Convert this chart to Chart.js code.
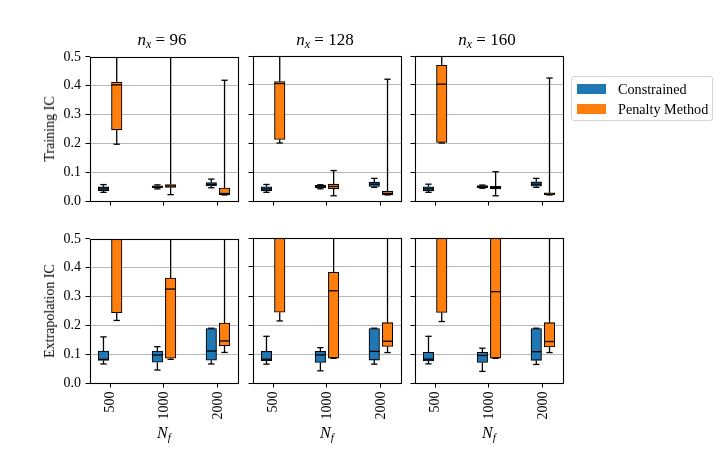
<!DOCTYPE html>
<html>
<head>
<meta charset="utf-8">
<script src="https://cdn.jsdelivr.net/npm/chart.js@4.4.1/dist/chart.umd.min.js"></script>
<style>
  html, body { margin: 0; padding: 0; background: #fff; }
  body { width: 723px; height: 465px; position: relative; overflow: hidden; font-family: "Liberation Serif", "DejaVu Serif", serif; color: #000; }
  canvas { position: absolute; }
  .title { position: absolute; width: 148px; text-align: center; font-size: 17px; line-height: 20px; white-space: nowrap; }
  .sub { font-size: 70%; position: relative; top: 0.28em; }
  .ylab { position: absolute; font-size: 14px; line-height: 16px; white-space: nowrap; transform: translate(-50%, -50%) rotate(-90deg); }
  .xlab { position: absolute; width: 148px; text-align: center; font-size: 16px; line-height: 18px; }
  .legend { position: absolute; left: 571px; top: 76px; width: 142px; height: 45px; box-sizing: border-box; border: 1px solid #d5d5d5; border-radius: 3px; background: rgba(255,255,255,0.8); }
  .item { position: absolute; left: 5px; height: 14px; display: flex; align-items: center; font-size: 14.2px; white-space: nowrap; }
  .patch { width: 29px; height: 10.5px; margin-right: 12px; }
</style>
</head>
<body>
<script>
// ---- data ----
const categories = ['500', '1000', '2000'];
const nxValues = [96, 128, 160];
const yTicks = [0, 0.1, 0.2, 0.3, 0.4, 0.5];
const rowLabels = ['Training IC', 'Extrapolation IC'];
const seriesNames = ['Constrained', 'Penalty Method'];
// each entry: [whisker low, Q1, median, Q3, whisker high]
const trainConstrained96  = [[0.030, 0.036, 0.042, 0.049, 0.057], [0.042, 0.046, 0.049, 0.053, 0.056], [0.046, 0.052, 0.058, 0.064, 0.076]];
const trainPenalty96      = [[0.197, 0.247, 0.403, 0.412, 0.95],  [0.022, 0.047, 0.052, 0.057, 0.95],  [0.021, 0.022, 0.026, 0.045, 0.419]];
const trainConstrained128 = [[0.030, 0.036, 0.042, 0.049, 0.057], [0.042, 0.045, 0.049, 0.054, 0.056], [0.047, 0.050, 0.058, 0.065, 0.078]];
const trainPenalty128     = [[0.200, 0.212, 0.405, 0.412, 0.95],  [0.018, 0.042, 0.050, 0.058, 0.105], [0.021, 0.022, 0.026, 0.034, 0.420]];
const trainConstrained160 = [[0.030, 0.035, 0.042, 0.049, 0.058], [0.044, 0.046, 0.049, 0.053, 0.055], [0.047, 0.051, 0.058, 0.066, 0.078]];
const trainPenalty160     = [[0.200, 0.202, 0.403, 0.468, 0.95],  [0.018, 0.042, 0.046, 0.051, 0.101], [0.021, 0.022, 0.024, 0.028, 0.424]];
const extrapConstrained96  = [[0.066, 0.078, 0.082, 0.111, 0.160], [0.045, 0.072, 0.097, 0.111, 0.126], [0.066, 0.079, 0.111, 0.189, 0.190]];
const extrapPenalty96      = [[0.217, 0.244, 0.62, 0.85, 1.2],     [0.082, 0.086, 0.326, 0.364, 0.95],  [0.106, 0.129, 0.146, 0.208, 0.95]];
const extrapConstrained128 = [[0.065, 0.077, 0.082, 0.109, 0.161], [0.042, 0.071, 0.097, 0.109, 0.122], [0.065, 0.079, 0.109, 0.188, 0.189]];
const extrapPenalty128     = [[0.214, 0.244, 0.62, 0.85, 1.2],     [0.085, 0.086, 0.318, 0.382, 0.95],  [0.105, 0.126, 0.144, 0.208, 0.95]];
const extrapConstrained160 = [[0.066, 0.076, 0.082, 0.106, 0.161], [0.040, 0.071, 0.095, 0.106, 0.120], [0.064, 0.078, 0.108, 0.188, 0.189]];
const extrapPenalty160     = [[0.212, 0.243, 0.62, 0.85, 1.2],     [0.085, 0.086, 0.315, 0.60, 0.95],   [0.105, 0.124, 0.143, 0.208, 0.95]];

const panelData = [
  [[trainConstrained96, trainPenalty96], [trainConstrained128, trainPenalty128], [trainConstrained160, trainPenalty160]],
  [[extrapConstrained96, extrapPenalty96], [extrapConstrained128, extrapPenalty128], [extrapConstrained160, extrapPenalty160]]
];

// ---- layout & style ----
const FONT = '"Liberation Serif", "DejaVu Serif", serif';
const colors = ['#1f77b4', '#ff7f0e'];
const groupOffset = [-0.123, 0.123];
const plotLefts = [90, 253, 415];
const plotTops = [56, 238];
const PW = 148, PH = 145, YW = 50, PT = 12, PR = 10, XH = 50;

const boxParts = {
  id: 'boxParts',
  afterDatasetsDraw(chart) {
    const ctx = chart.ctx, ya = chart.scales.y, a = chart.chartArea;
    ctx.save();
    ctx.beginPath();
    ctx.rect(a.left, a.top, a.right - a.left, a.bottom - a.top);
    ctx.clip();
    ctx.strokeStyle = '#000';
    ctx.lineWidth = 1.3;
    const seg = (x1, y1, x2, y2) => { ctx.beginPath(); ctx.moveTo(x1, y1); ctx.lineTo(x2, y2); ctx.stroke(); };
    chart.data.datasets.forEach((ds, di) => {
      const meta = chart.getDatasetMeta(di);
      meta.data.forEach((bar, i) => {
        const s = ds.stats[i];
        const x = bar.x, w = bar.width, cw = w * 0.3;
        const py = v => ya.getPixelForValue(v);
        seg(x, py(s[0]), x, py(s[1]));
        seg(x, py(s[3]), x, py(s[4]));
        seg(x - cw, py(s[0]), x + cw, py(s[0]));
        seg(x - cw, py(s[4]), x + cw, py(s[4]));
        seg(x - w / 2, py(s[2]), x + w / 2, py(s[2]));
      });
    });
    ctx.restore();
    ctx.save();
    ctx.strokeStyle = '#000';
    ctx.lineWidth = 1.1;
    ctx.strokeRect(Math.round(a.left) + 0.5, Math.round(a.top) + 0.5, Math.round(a.right - a.left), Math.round(a.bottom - a.top));
    ctx.restore();
  }
};

function addDiv(cls, html, style) {
  const d = document.createElement('div');
  d.className = cls;
  d.innerHTML = html;
  Object.assign(d.style, style);
  document.body.appendChild(d);
  return d;
}

for (let r = 0; r < 2; r++) {
  for (let c = 0; c < 3; c++) {
    const cv = document.createElement('canvas');
    const w = YW + PW + PR, h = PT + PH + XH;
    cv.width = w; cv.height = h;
    cv.style.width = w + 'px'; cv.style.height = h + 'px';
    cv.style.left = (plotLefts[c] - YW) + 'px';
    cv.style.top = (plotTops[r] - PT) + 'px';
    document.body.appendChild(cv);

    const datasets = panelData[r][c].map((stats, k) => ({
      label: seriesNames[k],
      stats: stats,
      data: stats.map((s, i) => ({ x: i + 1 + groupOffset[k], y: [s[1], s[3]] })),
      backgroundColor: colors[k],
      borderColor: '#000',
      borderWidth: 1.1,
      borderSkipped: false,
      barThickness: 10.5,
      grouped: false
    }));

    new Chart(cv, {
      type: 'bar',
      data: { datasets },
      plugins: [boxParts],
      options: {
        responsive: false,
        animation: false,
        events: [],
        layout: { padding: { top: PT, right: PR, left: 0, bottom: 0 } },
        plugins: { legend: { display: false }, tooltip: { enabled: false }, title: { display: false } },
        scales: {
          x: {
            type: 'linear', min: 0.627, max: 3.373, offset: false,
            afterBuildTicks: ax => { ax.ticks = categories.map((_, i) => ({ value: i + 1 })); },
            afterFit: ax => { ax.height = XH; },
            grid: { drawOnChartArea: false, drawTicks: true, tickLength: 4.5, tickColor: '#000', tickWidth: 1, offset: false },
            border: { display: false },
            ticks: {
              display: r === 1, autoSkip: false, minRotation: 90, maxRotation: 90, padding: 4,
              color: '#000', font: { family: FONT, size: 14 },
              callback: v => categories[Math.round(v) - 1] || ''
            }
          },
          y: {
            type: 'linear', min: 0, max: 0.5,
            afterBuildTicks: ax => { ax.ticks = yTicks.map(v => ({ value: v })); },
            afterFit: ax => { ax.width = YW; },
            grid: {
              color: ctx => (ctx.index === 0 || ctx.index === yTicks.length - 1) ? 'rgba(0,0,0,0)' : '#b8b8b8',
              lineWidth: 1, drawTicks: true, tickLength: 4.5, tickColor: '#000', tickWidth: 1
            },
            border: { display: false },
            ticks: {
              display: c === 0, padding: 4.5, color: '#000', font: { family: FONT, size: 14 },
              callback: v => Number(v).toFixed(1)
            }
          }
        }
      }
    });

    if (r === 0) {
      addDiv('title', '<i>n</i><span class="sub"><i>x</i></span> = ' + nxValues[c], { left: (plotLefts[c] - 2) + 'px', top: '30px' });
    } else {
      addDiv('xlab', '<i>N</i><span class="sub"><i>f</i></span>', { left: plotLefts[c] + 'px', top: '424px' });
    }
  }
  addDiv('ylab', rowLabels[r], { left: '50px', top: (plotTops[r] + PH / 2) + 'px' });
}

const lg = addDiv('legend', '', {});
seriesNames.forEach((name, k) => {
  const it = document.createElement('div');
  it.className = 'item';
  it.style.top = (k === 0 ? 5 : 25) + 'px';
  it.innerHTML = '<span class="patch" style="background:' + colors[k] + '"></span><span>' + name + '</span>';
  lg.appendChild(it);
});
</script>
</body>
</html>
